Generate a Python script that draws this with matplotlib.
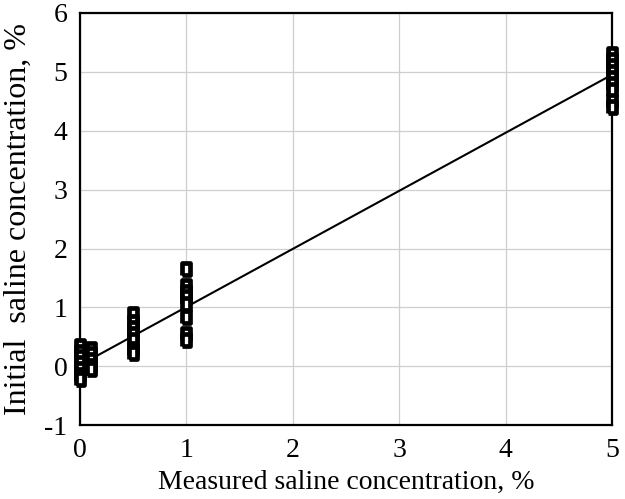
import matplotlib
matplotlib.use("Agg")
import matplotlib.pyplot as plt
from matplotlib.markers import MarkerStyle

# measured (x) vs initial (y) saline concentration, %
x_0 = [0.0] * 7
y_0 = [0.35, 0.25, 0.15, 0.05, -0.05, -0.15, -0.22]
x_01 = [0.1] * 5
y_01 = [0.3, 0.2, 0.1, 0.0, -0.05]
x_05 = [0.5] * 7
y_05 = [0.88, 0.75, 0.65, 0.55, 0.45, 0.3, 0.22]
x_1 = [1.0] * 8
y_1 = [1.66, 1.36, 1.26, 1.18, 1.06, 0.83, 0.55, 0.44]
x_5 = [5.0] * 9
y_5 = [5.3, 5.2, 5.1, 5.0, 4.9, 4.8, 4.7, 4.5, 4.4]
fit_x = [0.1, 5.0]
fit_y = [0.12, 4.95]

x_ticks = [0, 1, 2, 3, 4, 5]
y_ticks = [-1, 0, 1, 2, 3, 4, 5, 6]

plt.rcParams["font.family"] = ["Liberation Serif", "DejaVu Serif"]
plt.rcParams["axes.unicode_minus"] = False

fig = plt.figure(figsize=(6.25, 4.99), dpi=100)
ax = fig.add_axes([0.128, 0.148, 0.851, 0.826])

ax.grid(True, color="#cfcfcf", lw=0.9)
ax.set_axisbelow(True)

ax.plot(fit_x, fit_y, color="black", lw=1.5, zorder=3)

rect = MarkerStyle([(-0.6, -1), (0.6, -1), (0.6, 1), (-0.6, 1), (-0.6, -1)],
                   joinstyle="miter")
xs = x_0 + x_01 + x_05 + x_1 + x_5
ys = y_0 + y_01 + y_05 + y_1 + y_5
ax.plot(xs, ys, ls="none", marker=rect, ms=9, mfc="white", mec="black",
        mew=3.4, zorder=4, clip_on=False)

ax.set_xlim(0, 5)
ax.set_ylim(-1, 6)
ax.set_xticks(x_ticks)
ax.set_yticks(y_ticks)
ax.tick_params(length=0, labelsize=20, pad=9)
for sp in ax.spines.values():
    sp.set_linewidth(1.6)

ax.set_xlabel("Measured saline concentration, %", fontsize=20, labelpad=5)
ax.set_ylabel("Initial  saline concentration, %", fontsize=23, labelpad=8)

fig.savefig("out.png", dpi=100, facecolor="white")
